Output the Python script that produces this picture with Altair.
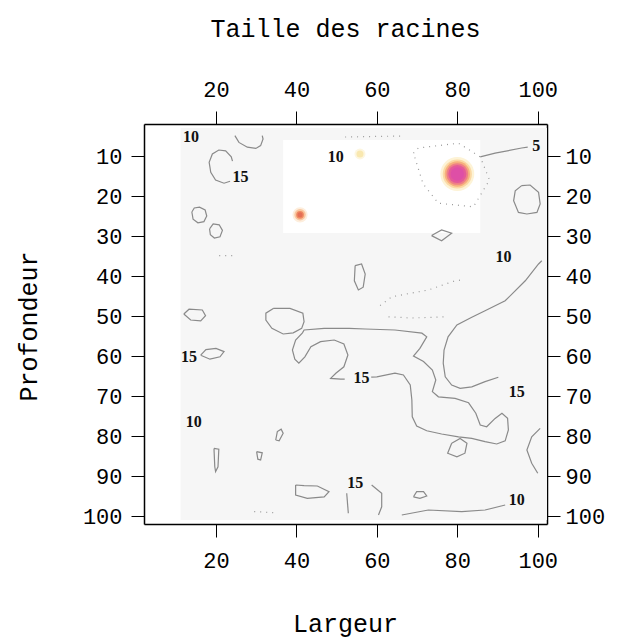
import altair as alt
import pandas as pd

# Axis ticks
x_ticks = [20, 40, 60, 80, 100]
y_ticks = [10, 20, 30, 40, 50, 60, 70, 80, 90, 100]

# Background fields of the level plot (low values)
field_x = [11.2, 102.3]
field_y = [3.0, 101.0]
calm_x = [36.7, 85.7]
calm_y = [6.0, 29.25]

# Local maxima of root size
spot_name = ["a", "b", "c"]
spot_x = [80.0, 40.9, 55.8]
spot_y = [14.5, 24.7, 9.5]

# Contour lines (Largeur, Profondeur)
top_arc = [(24.7, 4.9), (25.7, 6.6), (27.8, 7.8), (29.9, 8.1), (31.1, 7.4), (31.7, 5.75), (31.5, 4.9)]
loop_15_top = [(24.1, 11.3), (23.8, 10.2), (22.4, 8.7), (20.7, 8.5), (19.1, 9.5), (18.3, 11.6),
               (18.7, 14.1), (19.9, 16.0), (22.0, 16.8), (23.5, 16.3)]
ring_a = [(14.0, 24.0), (14.6, 23.0), (15.9, 22.8), (17.3, 23.5), (17.7, 25.0), (17.0, 26.4),
          (15.5, 26.7), (14.3, 25.8), (14.0, 24.0)]
ring_b = [(18.4, 28.2), (19.3, 27.0), (20.8, 27.2), (21.6, 28.6), (21.0, 30.2), (19.6, 30.5),
          (18.6, 29.7), (18.4, 28.2)]
loop_left_50 = [(12.0, 49.5), (13.3, 48.3), (16.6, 48.5), (17.4, 49.9), (16.2, 51.2), (13.7, 51.0), (12.0, 49.5)]
loop_left_60 = [(16.2, 59.8), (17.5, 58.4), (20.0, 58.1), (22.0, 58.9), (21.0, 60.2), (18.5, 60.8), (16.2, 59.8)]
loop_mid = [(34.25, 48.1), (38.4, 48.1), (41.6, 49.3), (41.9, 51.4), (41.3, 53.1), (39.2, 54.2),
            (36.7, 54.5), (33.9, 53.1), (32.4, 51.0), (32.4, 49.3), (34.25, 48.1)]
main_15 = [(52.0, 65.8), (51.0, 65.8), (48.5, 65.6), (49.8, 64.3), (51.8, 62.7), (52.8, 59.75),
           (51.8, 57.0), (49.4, 56.0), (46.0, 56.4), (43.6, 57.7), (42.1, 60.2), (40.6, 61.8),
           (39.6, 60.8), (39.0, 58.5), (39.8, 56.0), (41.5, 54.2), (41.9, 53.5), (46.9, 53.1),
           (53.1, 53.1), (57.1, 53.25), (64.5, 53.5), (71.2, 54.3), (72.4, 55.2), (70.7, 58.1),
           (69.1, 60.0), (71.6, 61.4), (73.8, 63.5), (74.65, 66.0), (73.8, 68.9), (75.3, 70.2),
           (79.45, 70.6), (82.8, 71.7), (84.6, 74.3), (85.7, 77.25), (87.3, 77.7), (89.4, 75.6),
           (91.1, 74.3), (92.5, 75.6), (92.7, 78.5), (91.9, 81.2), (89.8, 82.0), (86.9, 81.4),
           (83.6, 80.6), (80.3, 80.2), (76.1, 79.5), (72.4, 78.7), (69.9, 77.5), (68.8, 75.2),
           (68.7, 71.0), (68.3, 67.25), (66.6, 64.75), (64.5, 64.3), (60.0, 65.2), (58.6, 65.3)]
right_15 = [(101.0, 36.2), (100.2, 37.0), (96.9, 41.2), (91.9, 46.2), (86.9, 48.7), (83.6, 50.3),
            (79.9, 52.25), (77.7, 55.2), (76.7, 58.5), (76.5, 61.8), (77.0, 65.2), (78.6, 67.25),
            (80.7, 68.1), (83.6, 67.7), (86.9, 66.4), (90.2, 65.3)]
right_edge = [(100.6, 78.1), (98.5, 80.2), (97.3, 83.5), (98.5, 86.8), (100.0, 89.3)]
loop_tr = [(96.0, 17.4), (98.1, 17.25), (100.2, 19.1), (100.6, 22.0), (99.8, 24.1), (97.3, 24.5),
           (95.2, 24.1), (94.0, 21.2), (94.4, 18.7), (96.0, 17.4)]
line_5 = [(85.7, 10.2), (89.4, 9.3), (96.0, 8.0), (97.5, 7.8)]
diamond = [(73.6, 29.9), (76.1, 28.5), (78.6, 29.3), (76.1, 31.2), (73.6, 29.9)]
loop_v = [(54.6, 37.4), (56.2, 37.0), (57.1, 39.5), (56.6, 42.8), (55.4, 43.5), (54.4, 41.2), (54.6, 37.4)]
loop_small1 = [(34.85, 81.0), (35.25, 78.9), (36.2, 78.3), (36.7, 79.3), (35.7, 81.2), (34.85, 81.0)]
loop_small2 = [(30.1, 83.9), (31.5, 84.2), (31.1, 86.0), (30.4, 85.8), (30.1, 83.9)]
loop_thin = [(19.5, 83.1), (20.7, 83.3), (20.5, 87.7), (19.9, 88.9), (19.7, 87.7), (19.5, 83.1)]
loop_bottom = [(39.8, 92.25), (41.9, 92.4), (45.2, 92.5), (48.1, 93.9), (46.9, 95.2), (42.7, 95.6),
               (39.8, 94.75), (39.8, 92.25)]
curve_b15 = [(58.7, 92.25), (61.2, 94.3), (61.2, 97.7), (60.4, 99.75)]
stub_b15 = [(52.5, 94.3), (52.9, 99.3)]
blob = [(69.1, 95.2), (69.9, 93.9), (71.6, 93.9), (72.4, 95.0), (70.7, 95.6), (69.1, 95.2)]
line_b10 = [(66.2, 99.75), (72.8, 98.5), (81.1, 98.9), (86.9, 98.5), (91.9, 97.25)]
loop_lr = [(78.6, 81.8), (80.7, 80.6), (82.4, 81.8), (81.9, 84.3), (79.9, 85.2), (77.6, 84.3), (78.6, 81.8)]

# Faint, broken contour pieces
faint_a = [(60.8, 47.4), (63.7, 45.2), (69.5, 44.1), (72.8, 43.5), (76.5, 42.2), (79.45, 41.2), (81.1, 41.0)]
faint_b = [(62.9, 50.2), (68.7, 50.5), (77.0, 50.2)]
faint_c = [(52.1, 5.25), (66.3, 5.0)]
faint_ring = [(69.1, 9.3), (70.3, 8.0), (80.3, 6.8), (85.7, 10.2), (88.0, 16.0), (84.0, 22.7),
              (75.3, 21.8), (71.5, 17.0), (69.1, 9.3)]
faint_d = [(20.8, 34.9), (25.2, 34.9)]
faint_e = [(29.5, 98.9), (35.2, 99.2)]

# Contour labels
label_text = ["10", "15", "10", "5", "10", "15", "15", "15", "10", "15", "10"]
label_x = [13.8, 26.1, 49.8, 99.6, 91.5, 13.3, 56.2, 94.8, 14.5, 54.6, 94.8]
label_y = [5.25, 15.2, 10.3, 7.5, 35.3, 60.2, 65.6, 68.9, 76.4, 91.8, 96.0]

solid_lines = [top_arc, loop_15_top, ring_a, ring_b, loop_left_50, loop_left_60, loop_mid, main_15,
               right_15, right_edge, loop_tr, line_5, diamond, loop_v, loop_small1, loop_small2,
               loop_thin, loop_bottom, curve_b15, stub_b15, blob, line_b10, loop_lr]
faint_lines = [faint_a, faint_b, faint_c, faint_ring, faint_d, faint_e]


def lines_frame(paths):
    rows = []
    for k, path in enumerate(paths):
        for i, (x, y) in enumerate(path):
            rows.append({"id": k, "i": i, "x": x, "y": y})
    return pd.DataFrame(rows)


W, H = 403, 400
FONT = "Liberation Mono"

xs = alt.Scale(domain=[2.1, 102.3], nice=False, zero=False)
ys = alt.Scale(domain=[2, 102], nice=False, zero=False, reverse=True)

# the four axis domains draw the box around the panel
axis_common = dict(grid=False, domain=True, domainColor="black", domainWidth=1.5,
                   ticks=True, tickSize=13, tickColor="black", tickWidth=1,
                   labelFont=FONT, labelFontSize=22, labelColor="black")

bottom_axis = alt.Axis(orient="bottom", values=x_ticks, labelPadding=13, titleFont=FONT,
                       titleFontSize=25, titleFontWeight="normal", titleColor="black",
                       titleX=201, titleY=107, titleBaseline="alphabetic", **axis_common)
top_axis = alt.Axis(orient="top", values=x_ticks, labelPadding=10, **axis_common)
left_axis = alt.Axis(orient="left", values=y_ticks, labelPadding=9, titleFont=FONT,
                     titleFontSize=25, titleFontWeight="normal", titleColor="black",
                     titleX=-116, titleY=202, titleAngle=270, titleAlign="center",
                     titleBaseline="middle", **axis_common)
right_axis = alt.Axis(orient="right", values=y_ticks, labelPadding=5, **axis_common)

field_df = pd.DataFrame({"x0": [field_x[0]], "x1": [field_x[1]], "y0": [field_y[0]], "y1": [field_y[1]]})
calm_df = pd.DataFrame({"x0": [calm_x[0]], "x1": [calm_x[1]], "y0": [calm_y[0]], "y1": [calm_y[1]]})

field = alt.Chart(field_df).mark_rect(color="#f6f6f6").encode(
    x=alt.X("x0:Q", scale=xs, axis=bottom_axis, title="Largeur"),
    x2="x1",
    y=alt.Y("y0:Q", scale=ys, axis=left_axis, title="Profondeur"),
    y2="y1",
)
calm = alt.Chart(calm_df).mark_rect(color="#ffffff").encode(
    x=alt.X("x0:Q", scale=xs, axis=top_axis, title=None),
    x2="x1",
    y=alt.Y("y0:Q", scale=ys, axis=right_axis, title=None),
    y2="y1",
)

spots_df = pd.DataFrame({"name": spot_name, "x": spot_x, "y": spot_y})
spot_base = alt.Chart(spots_df)
px = alt.X("x:Q", scale=xs, axis=None)
py = alt.Y("y:Q", scale=ys, axis=None)

# concentric discs give each maximum a soft colour gradient
rings = [
    ("a", 1150, "#fdf3d6"), ("a", 850, "#fbd9a4"), ("a", 640, "#f6b07e"),
    ("a", 470, "#ee7f86"), ("a", 330, "#e45a99"), ("a", 180, "#de4fa6"),
    ("b", 230, "#fdeedd"), ("b", 130, "#f9c7a0"), ("b", 60, "#ef8a62"), ("b", 25, "#e46e55"),
    ("c", 120, "#fdf6e0"), ("c", 50, "#f9e8b0"),
]
spot_layers = [
    spot_base.transform_filter(alt.datum.name == n).mark_circle(size=s, color=c, opacity=1).encode(x=px, y=py)
    for n, s, c in rings
]

solid = alt.Chart(lines_frame(solid_lines)).mark_line(color="#8a8a8a", strokeWidth=1.2, clip=True).encode(
    x=alt.X("x:Q", scale=xs, axis=None),
    y=alt.Y("y:Q", scale=ys, axis=None),
    detail="id:N",
    order="i:Q",
)
faint = alt.Chart(lines_frame(faint_lines)).mark_line(
    color="#9a9a9a", strokeWidth=1.2, strokeDash=[1, 5], clip=True
).encode(
    x=alt.X("x:Q", scale=xs, axis=None),
    y=alt.Y("y:Q", scale=ys, axis=None),
    detail="id:N",
    order="i:Q",
)

labels_df = pd.DataFrame({"t": label_text, "x": label_x, "y": label_y})
labels = alt.Chart(labels_df).mark_text(
    font="Liberation Serif", fontWeight="bold", fontSize=16, color="#111111"
).encode(x=alt.X("x:Q", scale=xs, axis=None), y=alt.Y("y:Q", scale=ys, axis=None), text="t:N")

chart = alt.layer(field, calm, *spot_layers, solid, faint, labels).resolve_axis(
    x="independent", y="independent"
).properties(
    width=W,
    height=H,
    title=alt.TitleParams("Taille des racines", font=FONT, fontSize=25, fontWeight="normal",
                          color="black", anchor="middle", offset=36),
    autosize=alt.AutoSizeParams(type="none"),
    padding={"left": 144, "top": 124, "right": 76, "bottom": 116},
).configure_view(stroke="black", strokeWidth=1.5).configure(background="white")

chart.save("out.html", embed_options={"renderer": "svg", "actions": False})
